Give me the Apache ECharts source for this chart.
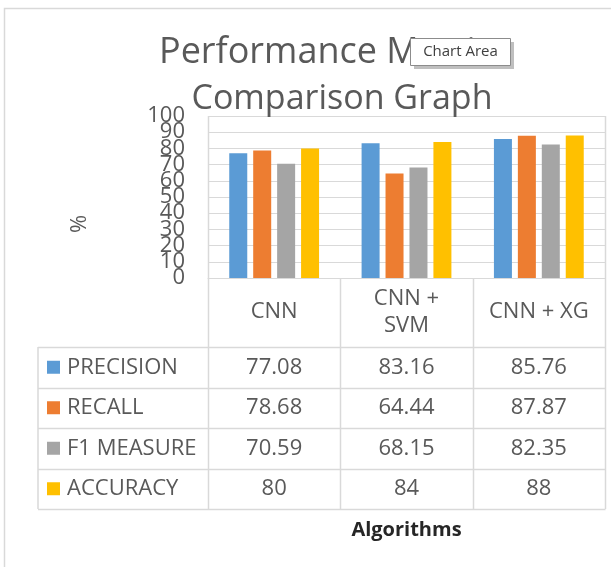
<!DOCTYPE html>
<html><head><meta charset="utf-8">
<script src="https://cdn.jsdelivr.net/npm/echarts@6/dist/echarts.min.js"></script>
<style>html,body{margin:0;padding:0;background:#fff}#c{width:611px;height:567px}</style>
</head><body><div id="c"></div>
<script>
const categories = ['CNN', 'CNN +\nSVM', 'CNN + XG'];
const seriesNames = ['PRECISION', 'RECALL', 'F1 MEASURE', 'ACCURACY'];
const precision = [77.08, 83.16, 85.76];
const recall = [78.68, 64.44, 87.87];
const f1Measure = [70.59, 68.15, 82.35];
const accuracy = [80, 84, 88];
const yTicks = { min: 0, max: 100, interval: 10 };
const colors = ['#5B9BD5', '#ED7D31', '#A5A5A5', '#FFC000'];
const seriesData = [precision, recall, f1Measure, accuracy];

const FONT = 'Open Sans';
const TXT = '#595959';
const LINE = '#D9D9D9';
const G = { left: 208, top: 116, right: 6, bottom: 289 };

const chart = echarts.init(document.getElementById('c'), null, { renderer: 'canvas' });

const yLabelStyle = { fontFamily: FONT, fontSize: 22, color: TXT, margin: 23, lineHeight: 16 };
const baseOption = {
  animation: false,
  backgroundColor: '#fff',
  title: [
    { text: 'Performance Metrics', left: 154, top: 24,
      textStyle: { fontFamily: FONT, fontSize: 36, fontWeight: 'normal', color: TXT, lineHeight: 48 } },
    { text: 'Comparison Graph', left: 337, textAlign: 'center', top: 70,
      textStyle: { fontFamily: FONT, fontSize: 34, fontWeight: 'normal', color: TXT, lineHeight: 48 } }
  ],
  grid: { left: G.left, top: G.top, right: G.right, bottom: G.bottom, containLabel: false },
  xAxis: {
    type: 'category', data: categories,
    axisLine: { show: true, lineStyle: { color: LINE, width: 1 } },
    axisTick: { show: false },
    axisLabel: { fontFamily: FONT, fontSize: 22, color: TXT, lineHeight: 27, margin: 34, verticalAlign: 'middle', interval: 0 }
  },
  yAxis: [
    { // even tick labels (0,20,...,100)
      type: 'value', position: 'left', min: yTicks.min, max: yTicks.max, interval: yTicks.interval * 2,
      axisLine: { show: false }, axisTick: { show: false }, splitLine: { show: false },
      axisLabel: Object.assign({ showMinLabel: true, showMaxLabel: true }, yLabelStyle)
    },
    { // odd tick labels (10,30,...,90) + gridlines every 10
      type: 'value', position: 'left', offset: 0, min: yTicks.min, max: yTicks.max, interval: yTicks.interval,
      axisLine: { show: false }, axisTick: { show: false },
      splitLine: { show: true, lineStyle: { color: LINE, width: 1 } },
      axisLabel: Object.assign({ formatter: v => (Math.round(v / yTicks.interval) % 2 === 1 ? String(v) : '') }, yLabelStyle)
    }
  ],
  series: seriesNames.map((n, i) => ({
    name: n, type: 'bar', data: seriesData[i], barWidth: 18, barGap: '33%',
    itemStyle: { color: colors[i] }
  }))
};
chart.setOption(baseOption);

const W = 611, H = 567;
const plotL = G.left, plotR = W - G.right, plotT = G.top, plotB = H - G.bottom;
const bandW = (plotR - plotL) / categories.length;
const headerB = 347, rowH = 40.5, tableL = 38;
const tableB = headerB + rowH * seriesNames.length;
const ls = { stroke: LINE, lineWidth: 1.5 };
const gfx = [];
gfx.push({ type: 'rect', shape: { x: 4.5, y: 8.5, width: 640, height: 600 }, style: { fill: 'none', stroke: '#D9D9D9', lineWidth: 1.5 }, silent: true, z: -1 });
for (let i = 0; i <= categories.length; i++) {
  const x = Math.round(plotL + bandW * i) + 0.5;
  const y0 = (i === 0 || i === categories.length) ? plotT : plotB;
  gfx.push({ type: 'line', shape: { x1: x, y1: y0, x2: x, y2: tableB }, style: ls, silent: true });
}
gfx.push({ type: 'line', shape: { x1: tableL, y1: headerB, x2: tableL, y2: tableB }, style: ls, silent: true });
for (let r = 0; r <= seriesNames.length; r++) {
  const y = Math.round(headerB + rowH * r) + 0.5;
  gfx.push({ type: 'line', shape: { x1: tableL, y1: y, x2: plotR + 0.5, y2: y }, style: ls, silent: true });
}
seriesNames.forEach((n, r) => {
  const cy = headerB + rowH * r + rowH / 2;
  gfx.push({ type: 'rect', shape: { x: 47, y: cy - 6.5, width: 13, height: 13 }, style: { fill: colors[r] }, silent: true });
  gfx.push({ type: 'text', x: 67, y: cy, style: { text: n, fontFamily: FONT, fontSize: 22, fill: TXT, textVerticalAlign: 'middle', textAlign: 'left' }, silent: true });
  seriesData[r].forEach((v, c) => {
    const cx = chart.convertToPixel({ xAxisIndex: 0 }, categories[c]);
    gfx.push({ type: 'text', x: cx, y: cy, style: { text: String(v), fontFamily: FONT, fontSize: 22, fill: TXT, textAlign: 'center', textVerticalAlign: 'middle' }, silent: true });
  });
});
gfx.push({ type: 'text', x: 80, y: 224, rotation: Math.PI / 2, style: { text: '%', fontFamily: FONT, fontSize: 22, fill: TXT, textAlign: 'center', textVerticalAlign: 'middle' }, silent: true });
gfx.push({ type: 'text', x: (plotL + plotR) / 2, y: 530, style: { text: 'Algorithms', fontFamily: FONT, fontSize: 20, fontWeight: 'bold', fill: '#262626', textAlign: 'center', textVerticalAlign: 'middle' }, silent: true });
gfx.push({ type: 'rect', shape: { x: 414, y: 42, width: 100, height: 27 }, style: { fill: '#BFBFBF' }, silent: true, z: 10 });
gfx.push({ type: 'rect', shape: { x: 410.5, y: 38.5, width: 100, height: 27 }, style: { fill: '#fff', stroke: '#8C8C8C', lineWidth: 1 }, silent: true, z: 11 });
gfx.push({ type: 'text', x: 460.5, y: 52, style: { text: 'Chart Area', fontFamily: FONT, fontSize: 15, fill: '#404040', textAlign: 'center', textVerticalAlign: 'middle' }, silent: true, z: 12 });

chart.setOption({ graphic: gfx });
</script></body></html>
